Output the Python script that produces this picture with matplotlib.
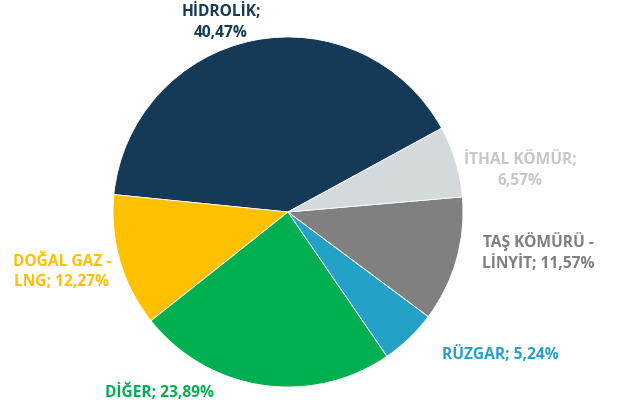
import matplotlib.pyplot as plt

names = ['HİDROLİK', 'DOĞAL GAZ -\nLNG', 'DİĞER', 'RÜZGAR', 'TAŞ KÖMÜRÜ -\nLİNYİT', 'İTHAL KÖMÜR']
shares = [40.47, 12.27, 23.89, 5.24, 11.57, 6.57]
colors = ['#143A58', '#FFC000', '#00B050', '#23A1C7', '#808080', '#D4DADC']
text_colors = ['#143A58', '#FFC000', '#00B050', '#23A1C7', '#7F7F7F', '#C4C6C8']

# label centres in pixels (x, y from top)
label_px = [(221, 22), (62, 272), (160, 392), (500, 355), (538, 252), (520, 170)]
label_text = ['HİDROLİK;\n40,47%', 'DOĞAL GAZ -\nLNG; 12,27%', 'DİĞER; 23,89%',
              'RÜZGAR; 5,24%', 'TAŞ KÖMÜRÜ -\nLİNYİT; 11,57%', 'İTHAL KÖMÜR;\n6,57%']

W, H = 619, 410
cx, cy, r = 288, 213, 175

fig = plt.figure(figsize=(W / 100, H / 100), dpi=100)
ax = fig.add_axes([0, 0, 1, 1])
ax.pie(shares, colors=colors, startangle=28.6, counterclock=True,
       wedgeprops=dict(edgecolor='white', linewidth=0.6))
ax.set_xlim(-cx / r, (W - cx) / r)
ax.set_ylim((cy - H) / r, cy / r)
ax.set_aspect('auto')
ax.axis('off')

for (px, py), t, c in zip(label_px, label_text, text_colors):
    ax.text((px - cx) / r, (cy - py) / r, t, color=c, ha='center', va='center',
            fontsize=11.2, fontweight='bold', family=['Open Sans', 'DejaVu Sans'],
            linespacing=1.35)

fig.savefig('out.png', dpi=100)
